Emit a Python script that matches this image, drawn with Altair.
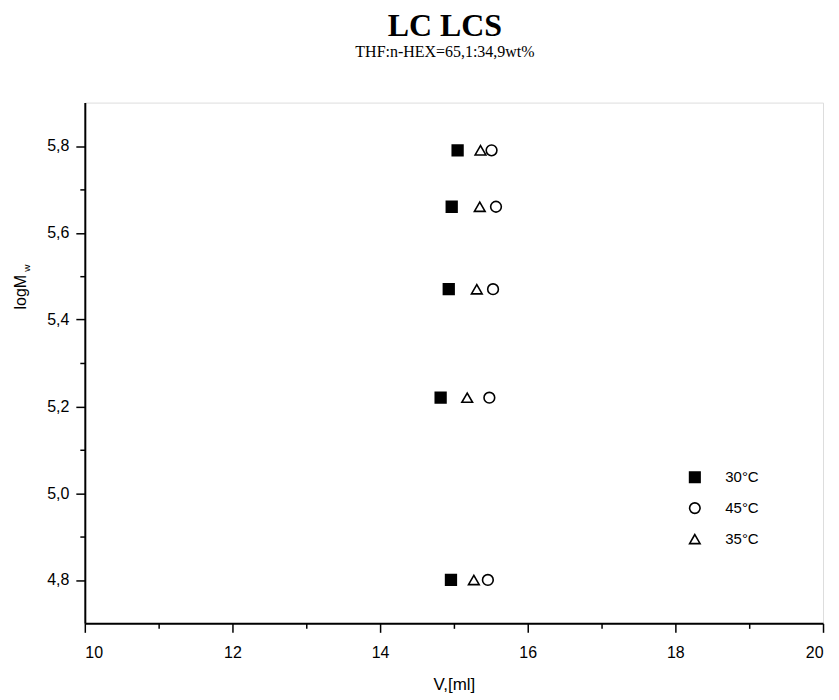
import altair as alt
import pandas as pd

# ---- data ----
logMw = [5.79, 5.66, 5.47, 5.22, 4.80]
V_30 = [15.05, 14.97, 14.93, 14.82, 14.96]
V_45 = [15.51, 15.57, 15.53, 15.48, 15.46]
V_35 = [15.36, 15.35, 15.31, 15.18, 15.27]
series_names = ["30°C", "45°C", "35°C"]

x_major = [10, 12, 14, 16, 18, 20]
x_minor = [11, 13, 15, 17, 19]
y_major = [4.8, 5.0, 5.2, 5.4, 5.6, 5.8]
y_minor = [4.9, 5.1, 5.3, 5.5, 5.7]

rows = []
for name, vals in zip(series_names, [V_30, V_45, V_35]):
    for v, m in zip(vals, logMw):
        rows.append({"V": v, "logMw": m, "series": name})
df = pd.DataFrame(rows)

W, H = 740, 522
xs = alt.Scale(domain=[10, 20], nice=False, zero=False)
ys = alt.Scale(domain=[4.7, 5.9], nice=False, zero=False)

comma = "replace(format(datum.value, '.1f'), '.', ',')"

leg = dict(title=None, orient="none", legendX=604, legendY=368,
           symbolSize=110, symbolStrokeWidth=1.6,
           labelFont="Liberation Sans", labelFontSize=15, labelColor="black",
           labelOffset=23, rowPadding=14)

points = alt.Chart(df).mark_point(filled=False, strokeWidth=1.6, size=115, opacity=1).encode(
    x=alt.X("V:Q", scale=xs, axis=alt.Axis(
        values=x_major, title="V,[ml]", orient="bottom", grid=False,
        tickSize=9, tickWidth=1.5, tickColor="black",
        labelFont="Liberation Sans", labelFontSize=16, labelColor="black", labelPadding=12,
        domainColor="black", domainWidth=2,
        titleFont="Liberation Sans", titleFontSize=17, titleFontWeight="normal", titleColor="black",
        titlePadding=16)),
    y=alt.Y("logMw:Q", scale=ys, axis=alt.Axis(
        values=y_major, title=None, orient="left", grid=False, labelExpr=comma,
        tickSize=9, tickWidth=1.5, tickColor="black",
        labelFont="Liberation Sans", labelFontSize=16, labelColor="black", labelPadding=7,
        domainColor="black", domainWidth=2)),
    shape=alt.Shape("series:N", scale=alt.Scale(domain=series_names, range=["square", "circle", "triangle-up"]),
                    legend=alt.Legend(**leg)),
    fill=alt.Fill("series:N", scale=alt.Scale(domain=series_names, range=["black", "white", "white"]),
                  legend=alt.Legend(**leg)),
    stroke=alt.Stroke("series:N", scale=alt.Scale(domain=series_names, range=["black", "black", "black"]),
                      legend=alt.Legend(**leg)),
)

minor_df = pd.DataFrame({"V": [x_minor[0]], "logMw": [y_minor[0]]})
minor = alt.Chart(minor_df).mark_point(opacity=0).encode(
    x=alt.X("V:Q", scale=xs, axis=alt.Axis(values=x_minor, labels=False, domain=False, title=None,
                                           orient="bottom", grid=False, tickSize=5, tickWidth=1.5, tickColor="black")),
    y=alt.Y("logMw:Q", scale=ys, axis=alt.Axis(values=y_minor, labels=False, domain=False, title=None,
                                               orient="left", grid=False, tickSize=5, tickWidth=1.5, tickColor="black")),
)

ylab_df = pd.DataFrame({"t": ["logM"]})
ylab = alt.Chart(ylab_df).mark_text(angle=270, font="Liberation Sans", fontSize=16, color="black",
                                    align="center", baseline="middle").encode(
    text="t:N", x=alt.value(-64), y=alt.value(190))
ysub_df = pd.DataFrame({"t": ["w"]})
ysub = alt.Chart(ysub_df).mark_text(angle=270, font="Liberation Sans", fontSize=10, color="black",
                                    align="center", baseline="middle").encode(
    text="t:N", x=alt.value(-58), y=alt.value(166))

chart = alt.layer(points, minor, ylab, ysub).resolve_axis(x="independent", y="independent").properties(
    width=W, height=H,
    autosize=alt.AutoSizeParams(type="none"),
    padding={"left": 77, "top": 94, "right": 8, "bottom": 74},
    title=alt.TitleParams(text="LC LCS", subtitle="THF:n-HEX=65,1:34,9wt%",
                          font="Liberation Serif", fontSize=32, fontWeight="bold", color="black",
                          subtitleFont="Liberation Serif", subtitleFontSize=16, subtitleColor="black",
                          anchor="middle", offset=42, subtitlePadding=1, dx=-9),
).configure_view(stroke="black", strokeWidth=2).configure(background="white")

chart.save("out.html", embed_options={"renderer": "svg", "actions": False})
